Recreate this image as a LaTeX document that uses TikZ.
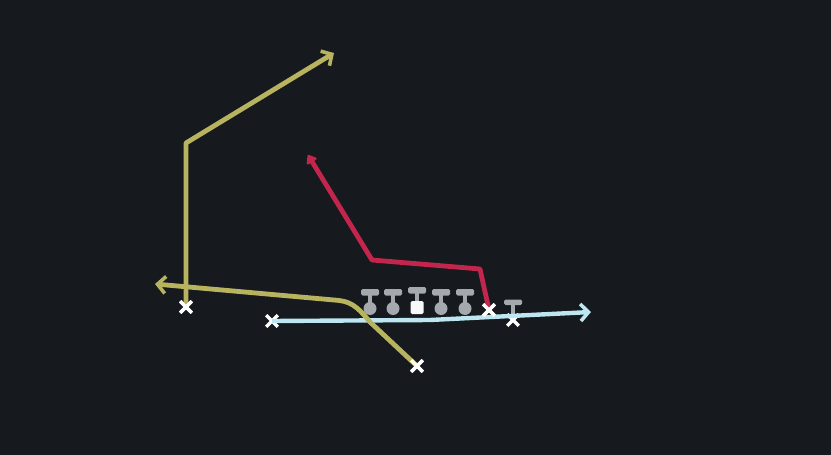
\documentclass[tikz,border=0pt]{standalone}
\usetikzlibrary{arrows.meta,shapes.misc}
\definecolor{bg}{HTML}{16191E}
\definecolor{ylw}{HTML}{B8B35F}
\definecolor{rd}{HTML}{C2264C}
\definecolor{ice}{HTML}{BDE6F0}
\definecolor{blk}{HTML}{A3A9AD}
\tikzstyle{player}=[shape=cross out,draw=white,line width=3.2pt,minimum size=8.5pt,inner sep=0pt]
\tikzstyle{route}=[line width=4.8pt,line join=round,-{Straight Barb[length=8pt,width=17pt,line width=3.6pt]}]
\tikzstyle{bar}=[fill=blk,rounded corners=1.5pt]
\def\barw{9}

\begin{document}
\begin{tikzpicture}[x=1pt,y=-1pt]
\useasboundingbox (0,0) rectangle (831,455);
\fill[bg] (0,0) rectangle (831,455);
% offensive line
\foreach \x in {370,393,441,465}{
  \fill[bar] (\x-\barw,289) rectangle (\x+\barw,295.5);
  \fill[blk] (\x-2,295) rectangle (\x+2,304);
  \fill[blk] (\x,308.5) circle (6.5);
}
\fill[bar] (417-\barw,287) rectangle (417+\barw,293.5);
\fill[blk] (415,293) rectangle (419,302);
\fill[white!92!blk,rounded corners=1.5pt] (410.5,301) rectangle (423.5,314);
\fill[bar] (513-\barw,299.5) rectangle (513+\barw,305);
\fill[blk] (511,304) rectangle (515,314);

% players
\node[player] (wr) at (186,307) {};
\node[player] (slot) at (272,321) {};
\node[player] (rb) at (417,366) {};
\node[player] (te) at (489,310) {};
\node[player] (tk) at (513,320) {};

% routes
\coordinate (flat) at (155,284);
\coordinate (post) at (334,53);
\coordinate (deep) at (308,155);
\coordinate (out) at (591,312);
\draw[route,ice,line width=4.4pt] (slot.center) -- (430,320) -- (out);
\draw[route,ylw] (wr.center) -- (186,143) -- (post);
\draw[route,ylw] (rb.center) -- (370,322) .. controls (356,305) and (350,301) .. (334,300) -- (flat);
\draw[route,rd,-{Triangle[round,length=9pt,width=13pt]}] (te.center) -- (480,269) -- (372,260) -- (deep);
\node[player] at (wr) {};
\node[player] at (rb) {};
\node[player] at (te) {};
\end{tikzpicture}
\end{document}
